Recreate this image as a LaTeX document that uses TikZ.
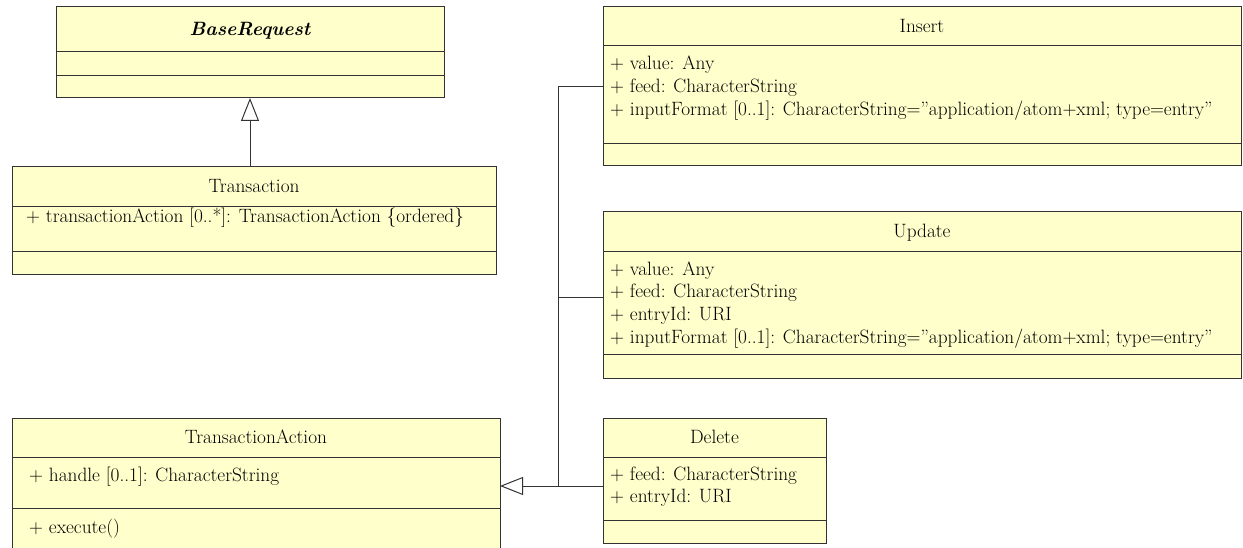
\documentclass[tikz,border=0pt]{standalone}
\usepackage{fontspec}
\defaultfontfeatures{}
\setmainfont{Latin Modern Roman}
\usetikzlibrary{arrows.meta}
\definecolor{classfill}{HTML}{FFFFCC}
\definecolor{lineclr}{HTML}{333333}
\tikzset{
  classbox/.style={draw=lineclr, fill=classfill, line width=1pt, rectangle, inner sep=0pt, outer sep=0pt, anchor=north west},
  sepline/.style={draw=lineclr, line width=1pt},
  title/.style={anchor=base, inner sep=0pt, font=\fontsize{19.3}{23}\selectfont\rmfamily},
  attr/.style={anchor=base west, inner sep=0pt, font=\fontsize{19.3}{23}\selectfont\rmfamily},
  conn/.style={draw=lineclr, line width=1pt},
  gen/.style={conn, -{Triangle[open, length=23pt, width=18pt]}},
}
\newcommand{\dq}{\symbol{34}}
\begin{document}
\begin{tikzpicture}[x=1pt, y=-1pt]
\useasboundingbox (0,0) rectangle (1243,548);
% BaseRequest
\node[classbox, minimum width=388pt, minimum height=91pt] (base) at (56,7) {};
\draw[sepline] (56,52) -- (444,52) (56,76) -- (444,76);
\node[title, font=\fontsize{19.3}{23}\selectfont\rmfamily\bfseries\itshape] (baseT) at (250,35.5) {BaseRequest};
% Transaction
\node[classbox, minimum width=484pt, minimum height=108pt] (trans) at (12,167) {};
\draw[sepline] (12,207) -- (496,207) (12,252) -- (496,252);
\node[title] (transN) at (254,193) {Transaction};
\node[attr] (transA) at (26,223) {+ transactionAction [0..*]: TransactionAction \{ordered\}};
% Insert
\node[classbox, minimum width=638pt, minimum height=159pt] (ins) at (603,7) {};
\draw[sepline] (603,46) -- (1241,46) (603,144) -- (1241,144);
\node[title] (insN) at (922,32.5) {Insert};
\node[attr] (insA1) at (610,69.3) {+ value: Any};
\node[attr] (insA2) at (610,92.7) {+ feed: CharacterString};
\node[attr] (insA3) at (610,115.3) {+ inputFormat [0..1]: CharacterString=\dq application/atom+xml; type=entry\dq};
% Update
\node[classbox, minimum width=638pt, minimum height=166pt] (upd) at (603,212) {};
\draw[sepline] (603,252) -- (1241,252) (603,354) -- (1241,354);
\node[title] (updN) at (922,238) {Update};
\node[attr] (updA1) at (610,275.3) {+ value: Any};
\node[attr] (updA2) at (610,297.7) {+ feed: CharacterString};
\node[attr] (updA3) at (610,320.7) {+ entryId: URI};
\node[attr] (updA4) at (610,343.3) {+ inputFormat [0..1]: CharacterString=\dq application/atom+xml; type=entry\dq};
% Delete
\node[classbox, minimum width=223pt, minimum height=125pt] (del) at (603,418) {};
\draw[sepline] (603,457) -- (826,457) (603,520) -- (826,520);
\node[title] (delN) at (714.5,443.7) {Delete};
\node[attr] (delA1) at (610,480) {+ feed: CharacterString};
\node[attr] (delA2) at (610,502.7) {+ entryId: URI};
% TransactionAction
\node[classbox, minimum width=488pt, minimum height=142pt] (ta) at (12,418) {};
\draw[sepline] (12,457) -- (500,457) (12,508) -- (500,508);
\node[title] (taN) at (256,443.5) {TransactionAction};
\node[attr] (taA1) at (29,481) {+ handle [0..1]: CharacterString};
\node[attr] (taO1) at (29,533.7) {+ execute()};
% connectors
\coordinate (trunkTop) at (558,86.7);
\coordinate (trunkMid) at (558,297.7);
\coordinate (trunkBot) at (558,486);
\draw[gen] (trans.north -| base.south) -- (base.south);
\draw[conn] (ins.west |- trunkTop) -- (trunkTop) -- (trunkBot);
\draw[conn] (upd.west |- trunkMid) -- (trunkMid);
\draw[gen] (del.west |- trunkBot) -- (ta.east |- trunkBot);
\end{tikzpicture}
\end{document}
